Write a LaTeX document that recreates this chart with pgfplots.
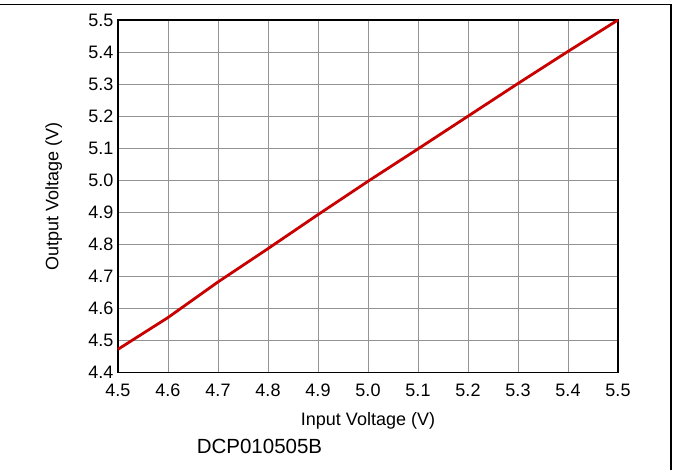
\documentclass[border=0pt]{standalone}
\usepackage{pgfplots}
\pgfplotsset{compat=1.18}
\usepackage{fontspec}
\setmainfont{Liberation Sans}
\definecolor{tired}{RGB}{200,0,0}
\begin{document}
\begin{tikzpicture}
\useasboundingbox (-118pt,-97.3pt) rectangle (555pt,372.7pt);
\draw[line width=1.3pt] (-118pt,368.5pt) -- (553pt,368.5pt) -- (553pt,-97.3pt);
\begin{axis}[
	at={(0pt,0pt)}, anchor=south west,
	scale only axis,
	width=500pt, height=352.7pt,
	xmin=4.5, xmax=5.5, ymin=4.4, ymax=5.5,
	xtick={4.5,4.6,...,5.5},
	ytick={4.4,4.5,...,5.5},
	xticklabel style={yshift=-8pt,/pgf/number format/.cd,fixed,fixed zerofill,precision=1},
	yticklabel style={xshift=-1pt,/pgf/number format/.cd,fixed,fixed zerofill,precision=1},
	/pgf/number format/assume math mode=true,
	tick label style={font=\fontsize{18}{20}\selectfont},
	major tick length=0pt,
	grid=major,
	major grid style={gray!85, line width=0.9pt},
	axis line style={line width=1.6pt},
	clip=false,
]
\addplot[tired, line width=2.8pt] coordinates {
	(4.5,4.473) (4.6,4.572) (4.7,4.683) (4.8,4.787) (4.9,4.893) (5.0,4.997)
	(5.1,5.098) (5.2,5.200) (5.3,5.302) (5.4,5.402) (5.5,5.5)
};
\end{axis}
\node[anchor=base, font=\fontsize{18}{21}\selectfont] at (250pt,-53.3pt) {Input Voltage (V)};
\node[anchor=base, rotate=90, font=\fontsize{18}{21}\selectfont] at (-59.5pt,176.35pt) {Output Voltage (V)};
\node[anchor=base, font=\fontsize{20.5}{23}\selectfont] at (141.5pt,-81.3pt) {DCP010505B};
\end{tikzpicture}
\end{document}
